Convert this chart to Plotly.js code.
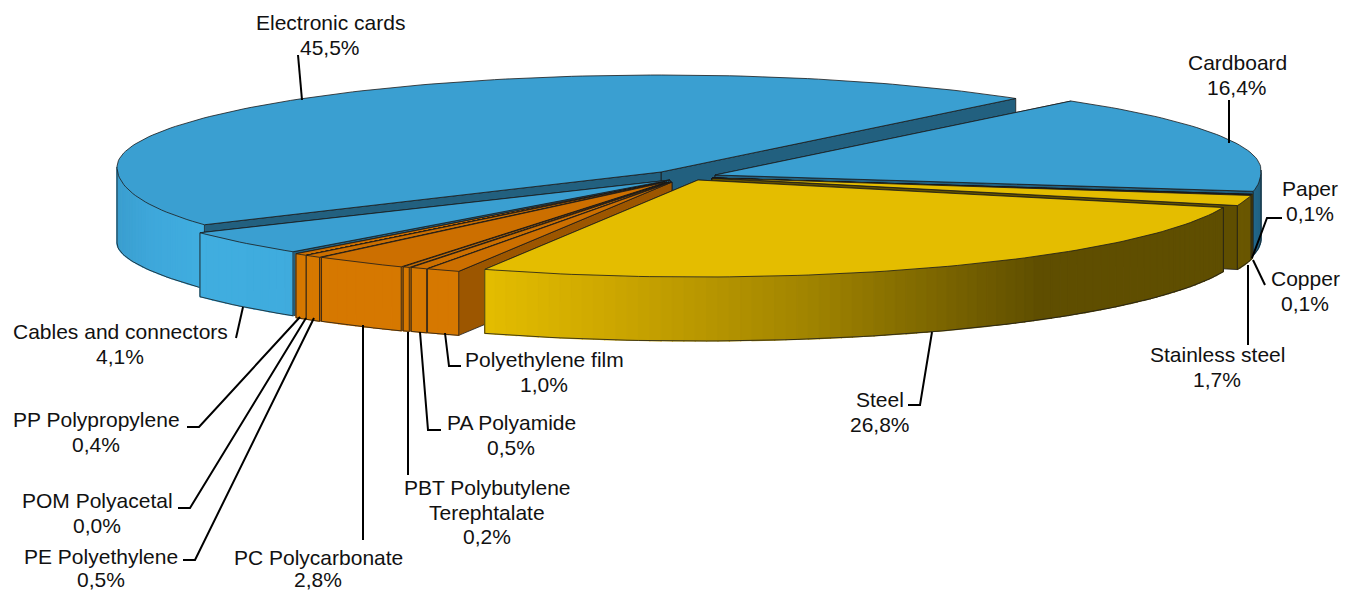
<!DOCTYPE html>
<html><head><meta charset="utf-8">
<script src="https://cdn.plot.ly/plotly-3.0.1.min.js"></script>
<style>html,body{margin:0;padding:0;background:#fff}#c{width:1355px;height:591px}</style>
</head><body><div id="c"></div>
<script>
// ---- data (percent of total, in drawing order round the pie)
const categories = ["Electronic cards","Cables and connectors","PP Polypropylene","POM Polyacetal","PE Polyethylene","PC Polycarbonate","PBT Polybutylene|Terephtalate","PA Polyamide","Polyethylene film","Steel","Stainless steel","Copper","Paper","Cardboard"];
const values = [45.5,4.1,0.4,0.0,0.5,2.8,0.2,0.5,1.0,26.8,1.7,0.1,0.1,16.4];
const families = ["blue","blueLight","orange","orange","orange","orange","orange","orange","orange","steel","steelDark","steelDark","steelDark","blueDark"];

// ---- projection / style
const RY = 97, DEPTH = 64, START = 49.3;
const radiusX = [544,560,548,548,548,548,548,548,548,548,548,548,548,546];
const apexX = [661,670,665,665,665,667,669,671,672,698,712,712,712,715];
const apexY = [172,180,182,182,182,182,182,182,182,180,178,178,178,175];
const paintOrder = [0,13,12,11,10,1,2,3,4,5,6,7,8,9];
// outer-edge rise near the widest point of the two big rear slices (perspective)
const edgeRise = {0:{at:180,front:33,back:70,top:5,bottom:7},13:{at:360,front:10,back:70,top:5,bottom:0}};
const labelX = [330,120,96,97,101,318,487,511,544,880,1217,1305,1310,1237];
const labelY = [22.5,331.5,419.5,500.5,556,557,487.5,422.5,359.5,399.5,354.5,278.5,188.5,62.5];
const lineGap = [24.6,24.6,24.6,24.6,23,22,24.6,24.6,24.6,24.6,24.6,24.6,24.6,24.6];
const leaders = [
 [[298,55],[302,100]], [[243,307],[236,338]], [[300,317],[199,427],[187,427]],
 [[306,318],[190,508],[178,508]], [[314,318],[195,560],[183,560]], [[363,325],[363,540]],
 [[408,332],[408,475]], [[420,332],[428,430],[441,430]], [[445,333],[449,366],[461,366]],
 [[932,332],[920,405],[908,405]], [[1248,265],[1248,345]], [[1265,285],[1253,260]],
 [[1282,218],[1267,218],[1252,258]], [[1229,100],[1229,143]]
];
const palette = {
 blue:     {top:"#3a9fd1", wall:"#22607f", side:[[115,"#3a9dce"],[150,"#3ea7da"],[205,"#40aee0"]]},
 blueLight:{top:"#3a9fd1", wall:"#22607f", side:[[190,"#40aee0"],[300,"#3fabdd"]]},
 blueDark: {top:"#3a9fd1", wall:"#22607f", side:[[1235,"#2a7ba3"],[1262,"#1f5f80"]]},
 orange:   {top:"#cc6f00", wall:"#9c5600", side:[[280,"#d67800"],[470,"#d67800"]]},
 steel:    {top:"#e4bd00", wall:"#7f6900", side:[[485,"#e4bd00"],[600,"#cfa900"],[800,"#a38600"],[1040,"#5f4e00"],[1230,"#5f4e00"]]},
 steelDark:{top:"#e4bd00", wall:"#5f4e00", side:[[1220,"#6a5700"],[1260,"#6a5700"]]}
};
const OUTLINE = "#1a1a1a";

function hex(c){return [1,3,5].map(i=>parseInt(c.substr(i,2),16));}
function shade(stops,x){
  if(x<=stops[0][0])return stops[0][1];
  for(let i=1;i<stops.length;i++){ if(x<=stops[i][0]){
    const t=(x-stops[i-1][0])/(stops[i][0]-stops[i-1][0]),p=hex(stops[i-1][1]),q=hex(stops[i][1]);
    return "rgb("+p.map((v,k)=>Math.round(v+(q[k]-v)*t)).join(",")+")";}}
  return stops[stops.length-1][1];
}
const total = values.reduce((a,b)=>a+b,0);
let running = START;
const spans = values.map(v=>{const s=[running,running+v/total*360];running=s[1];return s;});
const rad = d=>d*Math.PI/180;

function poly(xs,ys,fill,line){
  return {type:"scatter",mode:"lines",x:xs,y:ys,fill:"toself",fillcolor:fill,
    line:{color:line||fill,width:line?0.8:1.2},hoverinfo:"skip",showlegend:false};
}
function stroke(xs,ys){
  return {type:"scatter",mode:"lines",x:xs,y:ys,line:{color:OUTLINE,width:0.8},hoverinfo:"skip",showlegend:false};
}
const traces=[];
paintOrder.forEach(i=>{
  const [a0,a1]=spans[i], cx=apexX[i], cy=apexY[i], RX=radiusX[i], pal=palette[families[i]], rise=edgeRise[i];
  const bump=d=>{
    if(!rise) return 0;
    const isFront = Math.sin(rad(d))<=0 && d!==rise.at;
    const w=Math.max(0,1-Math.abs(d-rise.at)/(isFront?rise.front:rise.back));
    return w*w;
  };
  const P=d=>[cx+RX*Math.cos(rad(d)), cy-RY*Math.sin(rad(d))-(rise?rise.top*bump(d):0)];
  const Q=d=>[cx+RX*Math.cos(rad(d)), cy-RY*Math.sin(rad(d))+DEPTH+(rise?rise.bottom*bump(d):0)];
  // cut faces; the one facing the viewer goes last
  const order=Math.cos(rad((a0+a1)/2))<0?[a0,a1]:[a1,a0];
  order.forEach(d=>{
    const p=P(d);
    traces.push(poly([cx,p[0],p[0],cx,cx],[cy,p[1],p[1]+DEPTH,cy+DEPTH,cy],pal.wall,OUTLINE));
  });
  // outer wall: only the part facing the viewer, in thin strips for the shading
  const l=Math.max(a0,180), h=Math.min(a1,360);
  if(h>l){
    const n=Math.max(1,Math.ceil((h-l)/1.2));
    for(let k=0;k<n;k++){
      const u=l+(h-l)*k/n, w=l+(h-l)*(k+1)/n, A=P(u), B=P(w), C=Q(w), D=Q(u);
      traces.push(poly([A[0],B[0],C[0],D[0],A[0]],[A[1],B[1],C[1],D[1],A[1]],shade(pal.side,(A[0]+B[0])/2)));
    }
    const arc=[];for(let k=0;k<=n;k++){arc.push(Q(l+(h-l)*k/n));}
    traces.push(stroke(arc.map(p=>p[0]),arc.map(p=>p[1])));
    [l,h].forEach(d=>{const p=P(d),q=Q(d);traces.push(stroke([p[0],q[0]],[p[1],q[1]]));});
  }
  // top
  const xs=[cx],ys=[cy],m=Math.max(2,Math.ceil((a1-a0)/1.2));
  for(let k=0;k<=m;k++){const p=P(a0+(a1-a0)*k/m);xs.push(p[0]);ys.push(p[1]);}
  xs.push(cx);ys.push(cy);
  traces.push(poly(xs,ys,pal.top,OUTLINE));
});

// labels
const annotations=[];
categories.forEach((c,i)=>{
  const lines=c.split("|").concat(values[i].toFixed(1).replace(".",",")+"%");
  lines.forEach((t,k)=>annotations.push({x:labelX[i],y:labelY[i]+k*lineGap[i],xref:"x",yref:"y",text:t,showarrow:false,borderpad:0,
    xanchor:"center",yanchor:"middle",font:{family:"Liberation Sans, Arial, sans-serif",size:21,color:"#111"}}));
});
const shapes=leaders.map(l=>({type:"path",path:"M"+l.map(p=>p.join(",")).join("L"),xref:"x",yref:"y",
  line:{color:"#000",width:2},fillcolor:"rgba(0,0,0,0)"}));

Plotly.newPlot("c",traces,{
  width:1355,height:591,margin:{l:0,r:0,t:0,b:0},paper_bgcolor:"#fff",plot_bgcolor:"#fff",showlegend:false,
  xaxis:{range:[0,1355],visible:false,fixedrange:true},
  yaxis:{range:[591,0],visible:false,fixedrange:true},
  annotations,shapes
},{displayModeBar:false,staticPlot:true});
</script></body></html>
